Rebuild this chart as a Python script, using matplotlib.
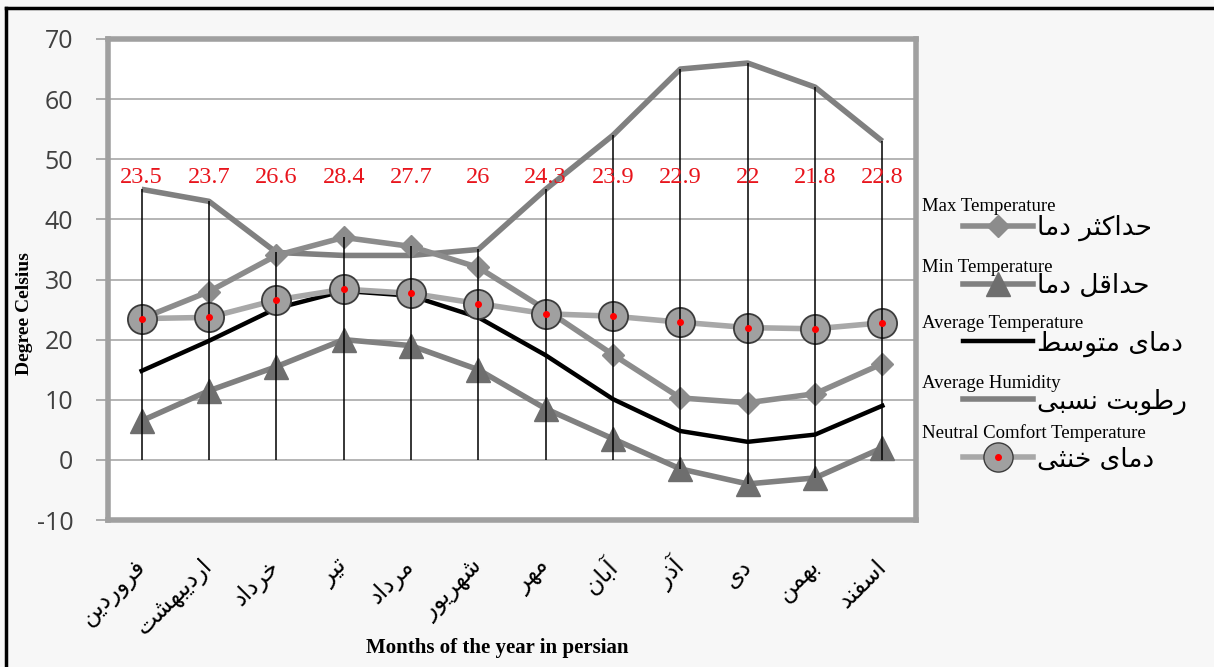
import matplotlib
matplotlib.use("Agg")
import matplotlib.pyplot as plt
from matplotlib.lines import Line2D
import numpy as np

# ---------------- data ----------------
months = ["فروردین", "اردیبهشت", "خرداد", "تیر", "مرداد", "شهریور",
          "مهر", "آبان", "آذر", "دی", "بهمن", "اسفند"]
max_temp = [23.5, 28, 34, 37, 35.5, 32, 25, 17.5, 10.3, 9.5, 11, 16]
min_temp = [6.5, 11.5, 15.5, 20, 19, 15, 8.5, 3.5, -1.5, -4, -3, 2]
avg_temp = [14.8, 19.8, 25.2, 28.1, 27.3, 23.7, 17.4, 10.1, 4.8, 3.0, 4.2, 9.0]
humidity = [45, 43, 34.5, 34, 34, 35, 45, 54, 65, 66, 62, 53]
neutral = [23.5, 23.7, 26.6, 28.4, 27.7, 26, 24.3, 23.9, 22.9, 22, 21.8, 22.8]
neutral_labels = ["23.5", "23.7", "26.6", "28.4", "27.7", "26", "24.3",
                  "23.9", "22.9", "22", "21.8", "22.8"]
yticks = [-10, 0, 10, 20, 30, 40, 50, 60, 70]
legend_fa = ["حداکثر دما", "حداقل دما", "دمای متوسط", "رطوبت نسبی", "دمای خنثی"]
legend_en = ["Max Temperature", "Min Temperature", "Average Temperature",
             "Average Humidity", "Neutral Comfort Temperature"]

# ------------- simple Persian shaping (presentation forms + RTL) -------------
FORMS = {
    '\u0627': ('\uFE8D', '\uFE8E', None, None),
    '\u0622': ('\uFE81', '\uFE82', None, None),
    '\u0628': ('\uFE8F', '\uFE90', '\uFE91', '\uFE92'),
    '\u062A': ('\uFE95', '\uFE96', '\uFE97', '\uFE98'),
    '\u062B': ('\uFE99', '\uFE9A', '\uFE9B', '\uFE9C'),
    '\u062D': ('\uFEA1', '\uFEA2', '\uFEA3', '\uFEA4'),
    '\u062E': ('\uFEA5', '\uFEA6', '\uFEA7', '\uFEA8'),
    '\u062F': ('\uFEA9', '\uFEAA', None, None),
    '\u0630': ('\uFEAB', '\uFEAC', None, None),
    '\u0631': ('\uFEAD', '\uFEAE', None, None),
    '\u0633': ('\uFEB1', '\uFEB2', '\uFEB3', '\uFEB4'),
    '\u0634': ('\uFEB5', '\uFEB6', '\uFEB7', '\uFEB8'),
    '\u0637': ('\uFEC1', '\uFEC2', '\uFEC3', '\uFEC4'),
    '\u0641': ('\uFED1', '\uFED2', '\uFED3', '\uFED4'),
    '\u0642': ('\uFED5', '\uFED6', '\uFED7', '\uFED8'),
    '\u0644': ('\uFEDD', '\uFEDE', '\uFEDF', '\uFEE0'),
    '\u0645': ('\uFEE1', '\uFEE2', '\uFEE3', '\uFEE4'),
    '\u0646': ('\uFEE5', '\uFEE6', '\uFEE7', '\uFEE8'),
    '\u0647': ('\uFEE9', '\uFEEA', '\uFEEB', '\uFEEC'),
    '\u0648': ('\uFEED', '\uFEEE', None, None),
    '\u06CC': ('\uFBFC', '\uFBFD', '\uFBFE', '\uFBFF'),
    '\u06A9': ('\uFB8E', '\uFB8F', '\uFB90', '\uFB91'),
}


def shape(text):
    out = []
    for i, c in enumerate(text):
        if c not in FORMS:
            out.append(c)
            continue
        iso, fin, ini, med = FORMS[c]
        prev = text[i - 1] if i > 0 else None
        nxt = text[i + 1] if i + 1 < len(text) else None
        jp = prev in FORMS and FORMS[prev][2] is not None
        jn = ini is not None and nxt in FORMS
        if jp and jn:
            out.append(med)
        elif jp:
            out.append(fin)
        elif jn:
            out.append(ini)
        else:
            out.append(iso)
    return ''.join(reversed(out))


# ---------------- figure ----------------
W, H = 1214, 667
fig = plt.figure(figsize=(W / 100, H / 100), dpi=100, facecolor="#f7f7f7")


def fx(px):
    return px / W


def fy(py):
    return 1 - py / H


ax = fig.add_axes([fx(108), fy(520), fx(916) - fx(108), fy(39) - fy(520)])
ax.set_facecolor("white")
x = np.arange(len(months))

ax.set_xlim(-0.5, len(months) - 0.5)
ax.set_ylim(-10, 70)
ax.set_yticks(yticks)
ax.set_yticklabels([str(t) for t in yticks], fontsize=18, family="Open Sans",
                   color="#404040")
ax.tick_params(axis="y", length=9, width=1.2, color="#a0a0a0", pad=16)
ax.set_xticks(x)
ax.set_xticklabels([])
ax.tick_params(axis="x", length=0)
for s in ax.spines.values():
    s.set_color("#a0a0a0")
    s.set_linewidth(4)
ax.grid(axis="y", color="#a8a8a8", lw=1.2, zorder=0)
ax.set_axisbelow(True)

# series
ax.plot(x, humidity, color="#808080", lw=4, solid_capstyle="butt", zorder=3)
ax.plot(x, max_temp, color="#8c8c8c", lw=4, marker="D", ms=11,
        mfc="#8c8c8c", mec="#8c8c8c", zorder=3)
ax.plot(x, min_temp, color="#808080", lw=4, marker="^", ms=17,
        mfc="#6e6e6e", mec="#6e6e6e", zorder=3)
ax.plot(x, avg_temp, color="black", lw=3.2, zorder=4)
ax.plot(x, neutral, color="#a8a8a8", lw=4, marker="o", ms=21,
        mfc="#a0a0a0", mec="#3c3c3c", mew=1.3, zorder=5)

# high-low lines
allv = np.array([max_temp, min_temp, avg_temp, humidity, neutral, np.zeros(len(months))])
ax.vlines(x, allv.min(axis=0), allv.max(axis=0), color="black", lw=1.1, zorder=6)
ax.plot(x, neutral, ls="none", marker="o", ms=4, mfc="#ff0000", mec="#ff0000", zorder=7)

# data labels
for xi, lab in zip(x, neutral_labels):
    ax.text(xi, 47, lab, color="#e8141c", fontsize=17.5, family="Liberation Serif",
            ha="center", va="center", zorder=8)

# x tick labels (rotated Persian)
for xi, m in zip(x, months):
    ax.annotate(shape(m), xy=(xi, -10), xycoords="data", xytext=(0, -31),
                textcoords="offset points", rotation=45, rotation_mode="anchor",
                ha="right", va="center", fontsize=17, family="DejaVu Sans",
                color="black", annotation_clip=False)

fig.text(fx(497), fy(648), "Months of the year in persian", ha="center", va="center",
         fontsize=15, fontweight="bold", family="Liberation Serif")
fig.text(fx(25), fy(314), "Degree Celsius", ha="center", va="center", rotation=90,
         fontsize=14, fontweight="bold", family="Liberation Serif")

# legend
dot = dict(ls="none", marker="o", ms=4, mfc="#ff0000", mec="#ff0000")
handles = [
    Line2D([], [], color="#8c8c8c", lw=4, marker="D", ms=11, mfc="#8c8c8c", mec="#8c8c8c"),
    Line2D([], [], color="#808080", lw=4, marker="^", ms=17, mfc="#6e6e6e", mec="#6e6e6e"),
    Line2D([], [], color="black", lw=3.2),
    Line2D([], [], color="#808080", lw=4),
    (Line2D([], [], color="#a8a8a8", lw=4, marker="o", ms=21, mfc="#a0a0a0", mec="#3c3c3c"),
     Line2D([], [], **dot)),
]
leg = ax.legend(handles, [shape(t) for t in legend_fa], loc="upper left",
                bbox_to_anchor=(fx(963), fy(215)), bbox_transform=fig.transFigure,
                frameon=False, prop={"family": "DejaVu Sans", "size": 19},
                handlelength=2.65, handletextpad=0.15, labelspacing=1.2,
                borderpad=0, borderaxespad=0, markerscale=1.0)
en_y = [207, 267, 323, 383, 433]
for t, yy in zip(legend_en, en_y):
    fig.text(fx(922), fy(yy), t, ha="left", va="center", fontsize=13.5,
             family="Liberation Serif", color="black")

# outer frame (left & top)
fig.add_artist(Line2D([fx(6), fx(6)], [fy(8), fy(667)], color="black", lw=2.5,
                      transform=fig.transFigure))
fig.add_artist(Line2D([fx(6), fx(1214)], [fy(8), fy(8)], color="black", lw=2.5,
                      transform=fig.transFigure))

fig.savefig("out.png", dpi=100, facecolor=fig.get_facecolor())
